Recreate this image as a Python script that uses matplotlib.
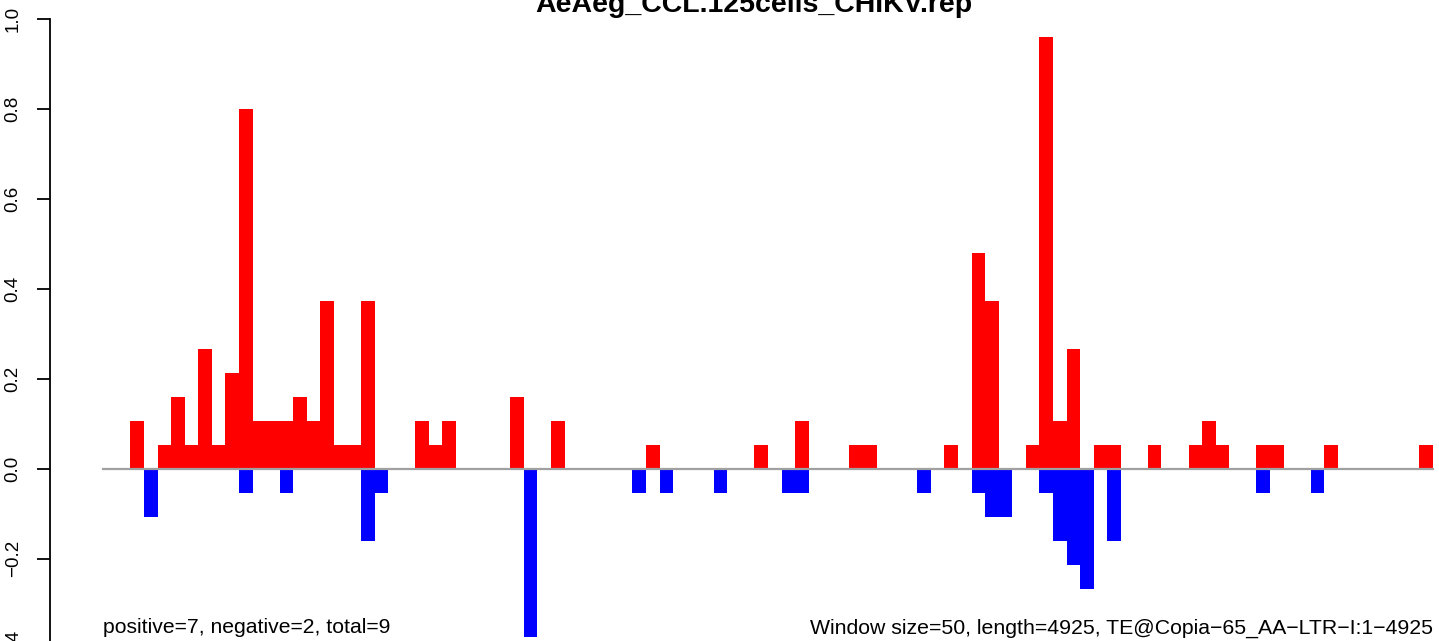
import matplotlib
matplotlib.use("Agg")
import matplotlib.pyplot as plt
import numpy as np

# window index -> normalised signal (sense above, antisense below)
pos_bins = [2, 4, 5, 6, 7, 8, 9, 10, 11, 12, 13, 14, 15, 16, 17, 18, 19,
            23, 24, 25, 30, 33, 40, 48, 51, 55, 56, 62, 64, 65, 68, 69, 70,
            71, 73, 74, 77, 80, 81, 82, 85, 86, 90, 97]
pos_vals = [0.107, 0.053, 0.160, 0.053, 0.267, 0.053, 0.214, 0.801, 0.107,
            0.107, 0.107, 0.160, 0.107, 0.374, 0.053, 0.053, 0.374,
            0.107, 0.053, 0.107, 0.160, 0.107, 0.053, 0.053, 0.107, 0.053,
            0.053, 0.053, 0.481, 0.374, 0.053, 0.961, 0.107,
            0.267, 0.053, 0.053, 0.053, 0.053, 0.107, 0.053, 0.053, 0.053,
            0.053, 0.053]
neg_bins = [3, 10, 13, 19, 20, 31, 39, 41, 45, 50, 51, 60, 64, 65, 66, 69,
            70, 71, 72, 74, 85, 89]
neg_vals = [-0.107, -0.053, -0.053, -0.160, -0.053, -0.374, -0.053, -0.053,
            -0.053, -0.053, -0.053, -0.053, -0.053, -0.107, -0.107, -0.053,
            -0.160, -0.214, -0.267, -0.160, -0.053, -0.053]
n_windows = 98
y_ticks = [-0.4, -0.2, 0.0, 0.2, 0.4, 0.6, 0.8, 1.0]

title = "AeAeg_CCL.125cells_CHIKV.rep"
left_note = "positive=7, negative=2, total=9"
right_note = "Window size=50, length=4925, TE@Copia\u221265_AA\u2212LTR\u2212I:1\u22124925"

plt.rcParams["font.family"] = ["Liberation Sans", "DejaVu Sans"]

W, H = 1439, 641
fig = plt.figure(figsize=(W / 100, H / 100), dpi=100)

# plot region in pixels (R-like, partly outside the saved image)
left_px, right_px = 50.1, 1486.0
top_px, bottom_px = 12.8, 661.0
ax = fig.add_axes([left_px / W, (H - bottom_px) / H,
                   (right_px - left_px) / W, (bottom_px - top_px) / H])

ax.bar(pos_bins, pos_vals, width=1.0, align="edge", color="#ff0000", linewidth=0)
ax.bar(neg_bins, neg_vals, width=1.0, align="edge", color="#0000ff", linewidth=0)
ax.plot([0, n_windows], [0, 0], color="#a0a0a0", lw=1.6, zorder=3)

# R style 4% padding
pad_x = 0.04 * n_windows
ax.set_xlim(-pad_x, n_windows + pad_x)
ymin, ymax = min(neg_vals), max(pos_vals)
pad_y = 0.04 * (ymax - ymin)
ax.set_ylim(ymin - pad_y, ymax + pad_y)

for s in ["top", "right", "bottom"]:
    ax.spines[s].set_visible(False)
ax.spines["left"].set_bounds(y_ticks[0], y_ticks[-1])
ax.spines["left"].set_linewidth(1.3)
ax.set_xticks([])
ax.set_yticks(y_ticks)
ax.set_yticklabels([f"{t:.1f}".replace("-", "\u2212") for t in y_ticks],
                   rotation=90, va="center", fontsize=13.5)
ax.tick_params(axis="y", length=9.5, width=1.3, pad=11)

ax.set_title(title, fontsize=20.5, fontweight="bold", x=0.49, y=1.0, pad=0.3)
ax.text(0, -0.366, left_note, ha="left", va="baseline", fontsize=15.2)
ax.text(n_windows, -0.366, right_note, ha="right", va="baseline", fontsize=15.3)

fig.savefig("out.png", dpi=100)
